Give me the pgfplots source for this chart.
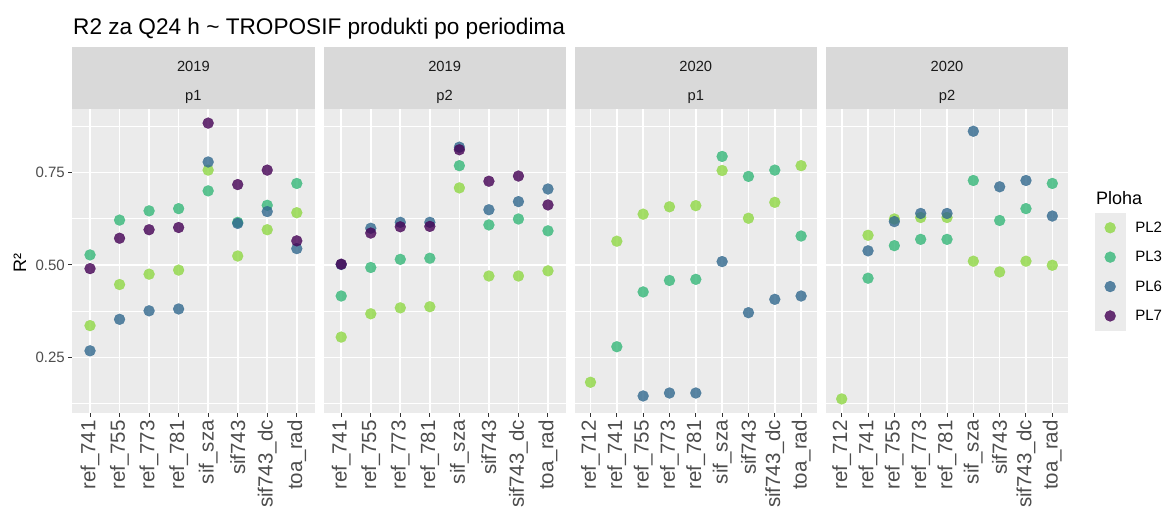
\documentclass[border=0pt]{standalone}
\usepackage{fontspec}
\setmainfont{Liberation Sans}
\usepackage{pgfplots}
\pgfplotsset{compat=1.18}
\definecolor{panelbg}{HTML}{EBEBEB}
\definecolor{stripbg}{HTML}{D9D9D9}
\definecolor{tickgray}{HTML}{333333}
\definecolor{labgray}{HTML}{4D4D4D}
\definecolor{stripfg}{HTML}{1A1A1A}
\definecolor{cPLa}{HTML}{8FD744}
\definecolor{cPLb}{HTML}{35B779}
\definecolor{cPLc}{HTML}{31688E}
\definecolor{cPLd}{HTML}{440154}
\newcommand{\fs}[1]{\fontsize{#1}{#1}\selectfont}

\pgfplotsset{
  panel/.style={
    width=242.2pt, height=303.4pt, scale only axis,
    anchor=south west,
    xmin=-0.6, ymin=0.1008, ymax=0.9203,
    axis line style={draw=none},
    axis background/.style={fill=panelbg},
    grid=both,
    major grid style={white, line width=1.6pt},
    minor grid style={white, line width=0.8pt},
    ytick={0.25,0.5,0.75},
    minor ytick={0.125,0.375,0.625,0.875},
    tick align=outside,
    major tick length=4pt,
    minor tick length=0pt,
    minor tick style={draw=none},
    tick style={tickgray, line width=1pt},
    xtick pos=bottom, ytick pos=left,
    x tick label style={rotate=90, anchor=east, font=\fs{20.5}, text=labgray},
    y tick label style={font=\fs{15}, text=labgray},
    /pgf/number format/assume math mode=true,
    clip=false,
  },
  inner/.style={yticklabels={}, ytick style={draw=none}},
  eight/.style={xmax=7.6, xtick={0,...,7},
    xticklabels={ref\_741,ref\_755,ref\_773,ref\_781,sif\_sza,sif743,sif743\_dc,toa\_rad}},
  nine/.style={xmax=8.6, xtick={0,...,8},
    xticklabels={ref\_712,ref\_741,ref\_755,ref\_773,ref\_781,sif\_sza,sif743,sif743\_dc,toa\_rad}},
  keyimg/.style={legend image code/.code={
      \fill[panelbg] (0pt,-14.5pt) rectangle (30pt,14.5pt);
      \draw[##1] plot coordinates {(15pt,0pt)};}},
  pt/.style={only marks, mark=*, mark size=5.5pt,
    mark options={draw=#1, fill=#1, line width=0.2pt, opacity=0.8}, keyimg},
}

\newcommand{\strip}[2]{%
  \fill[stripbg] (rel axis cs:0,1) rectangle ([yshift=62pt]rel axis cs:1,1);
  \node[font=\fs{14.7}, text=stripfg] at ([yshift=43.3pt]rel axis cs:0.5,1) {#1};
  \node[font=\fs{14.7}, text=stripfg] at ([yshift=12.6pt]rel axis cs:0.5,1) {#2};}

\begin{document}
\begin{tikzpicture}
\useasboundingbox (0,0) rectangle (1164pt,506pt);
\fill[white] (0,0) rectangle (1164pt,506pt);

% 2019 p1
\begin{axis}[panel, eight, at={(72.3pt,93.3pt)}, yticklabels={0.25,0.50,0.75}]
\addplot[pt=cPLa] coordinates {(0,0.336)(1,0.447)(2,0.475)(3,0.486)(4,0.756)(5,0.524)(6,0.595)(7,0.641)};
\addplot[pt=cPLb] coordinates {(0,0.527)(1,0.621)(2,0.646)(3,0.652)(4,0.700)(5,0.615)(6,0.661)(7,0.720)};
\addplot[pt=cPLc] coordinates {(0,0.268)(1,0.353)(2,0.376)(3,0.381)(4,0.778)(5,0.612)(6,0.644)(7,0.544)};
\addplot[pt=cPLd] coordinates {(0,0.490)(1,0.572)(2,0.595)(3,0.601)(4,0.883)(5,0.717)(6,0.756)(7,0.565)};
\strip{2019}{p1}
\end{axis}

% 2019 p2
\begin{axis}[panel, eight, inner, at={(323.5pt,93.3pt)}]
\addplot[pt=cPLa] coordinates {(0,0.305)(1,0.368)(2,0.384)(3,0.387)(4,0.708)(5,0.470)(6,0.470)(7,0.484)};
\addplot[pt=cPLb] coordinates {(0,0.416)(1,0.493)(2,0.515)(3,0.518)(4,0.768)(5,0.608)(6,0.624)(7,0.592)};
\addplot[pt=cPLc] coordinates {(0,0.501)(1,0.599)(2,0.615)(3,0.615)(4,0.818)(5,0.649)(6,0.671)(7,0.705)};
\addplot[pt=cPLd] coordinates {(0,0.502)(1,0.586)(2,0.603)(3,0.604)(4,0.811)(5,0.726)(6,0.740)(7,0.662)};
\strip{2019}{p2}
\end{axis}

% 2020 p1
\begin{axis}[panel, nine, inner, at={(574.7pt,93.3pt)}]
\addplot[pt=cPLa] coordinates {(0,0.183)(1,0.564)(2,0.637)(3,0.657)(4,0.660)(5,0.755)(6,0.626)(7,0.669)(8,0.768)};
\addplot[pt=cPLb] coordinates {(1,0.279)(2,0.427)(3,0.458)(4,0.461)(5,0.793)(6,0.739)(7,0.756)(8,0.578)};
\addplot[pt=cPLc] coordinates {(2,0.146)(3,0.154)(4,0.154)(5,0.509)(6,0.371)(7,0.407)(8,0.416)};
\strip{2020}{p1}
\end{axis}

% 2020 p2
\begin{axis}[panel, nine, inner, at={(825.9pt,93.3pt)},
  legend style={at={(axis description cs:1.111,0.658)}, anchor=north west,
    draw=none, fill=none, inner sep=0pt, outer sep=0pt, row sep=0pt,
    nodes={inner sep=0pt}, font=\fs{15}, cells={anchor=west},
    /tikz/every odd column/.append style={column sep=10pt}}]
\addplot[pt=cPLa] coordinates {(0,0.138)(1,0.580)(2,0.624)(3,0.628)(4,0.628)(5,0.510)(6,0.481)(7,0.510)(8,0.499)};
\addlegendentry{PL2}
\addplot[pt=cPLb] coordinates {(1,0.464)(2,0.552)(3,0.569)(4,0.569)(5,0.728)(6,0.620)(7,0.652)(8,0.720)};
\addlegendentry{PL3}
\addplot[pt=cPLc] coordinates {(1,0.538)(2,0.617)(3,0.639)(4,0.639)(5,0.861)(6,0.711)(7,0.728)(8,0.632)};
\addlegendentry{PL6}
\addlegendimage{pt=cPLd}
\addlegendentry{PL7}
\strip{2020}{p2}
\end{axis}

\node[anchor=base west, inner sep=0pt, font=\fs{22.6}] at (73pt,471pt)
  {R2 za Q24 h \textasciitilde{} TROPOSIF produkti po periodima};
\node[rotate=90, inner sep=0pt, font=\fs{18}] at (20pt,243pt) {R²};
\node[anchor=west, inner sep=0pt, font=\fs{18}] at (1096pt,308pt) {Ploha};
\end{tikzpicture}
\end{document}
